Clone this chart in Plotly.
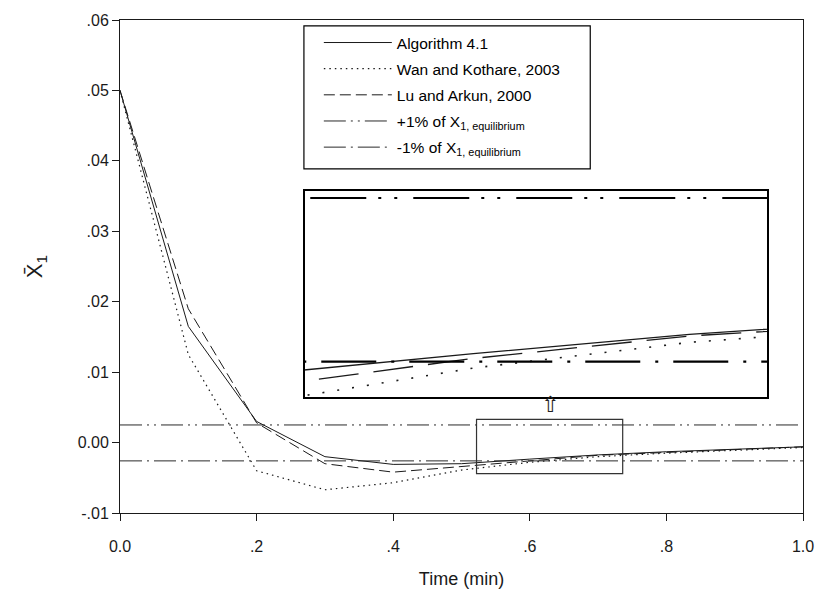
import plotly.graph_objects as go

# ---------------- data ----------------
time_min = [0.0, 0.1, 0.2, 0.3, 0.4, 0.5, 0.6, 0.7, 0.8, 0.9, 1.0]
algorithm_41 = [0.0500, 0.0165, 0.0030, -0.0020, -0.0031, -0.0030, -0.00235, -0.00175, -0.0013, -0.0010, -0.0006]
wan_kothare_2003 = [0.0500, 0.0125, -0.0040, -0.0067, -0.0057, -0.0039, -0.0028, -0.0020, -0.0015, -0.0011, -0.0007]
lu_arkun_2000 = [0.0500, 0.0190, 0.0028, -0.0030, -0.0042, -0.0034, -0.0025, -0.0018, -0.0014, -0.0010, -0.0006]

band_x = [0.0, 1.0]
plus_1pct = 0.0025
minus_1pct = -0.0026

series_names = [
    "Algorithm 4.1",
    "Wan and Kothare, 2003",
    "Lu and Arkun, 2000",
    "+1% of X<sub>1, equilibrium</sub>",
    "-1% of X<sub>1, equilibrium</sub>",
]

x_tick_vals = [0.0, 0.2, 0.4, 0.6, 0.8, 1.0]
x_tick_labels = ["0.0", ".2", ".4", ".6", ".8", "1.0"]
y_tick_vals = [-0.01, 0.0, 0.01, 0.02, 0.03, 0.04, 0.05, 0.06]
y_tick_labels = ["-.01", "0.00", ".01", ".02", ".03", ".04", ".05", ".06"]

x_range = [0.0, 1.0]
y_range = [-0.01, 0.06]

# zoomed region marked on the main plot, and the inset's ranges
zoom_box_x = [0.522, 0.736]
zoom_box_y = [-0.0044, 0.0033]
inset_x_range = [0.522, 0.736]
inset_y_range = [-0.0037, 0.00273]

# ---------------- styles ----------------
INK = "#1a1a1a"
FONT = "Liberation Sans, Arial, sans-serif"

main_styles = [
    dict(color=INK, width=1, dash="solid"),
    dict(color=INK, width=1.2, dash="1.5px,4px"),
    dict(color=INK, width=1, dash="11px,5px"),
    dict(color="#2a2a2a", width=1, dash="22px,5px,2px,5px,2px,5px"),
    dict(color="#2a2a2a", width=1, dash="22px,5px,2px,5px"),
]
inset_styles = [
    dict(color=INK, width=1.3, dash="solid"),
    dict(color=INK, width=1.6, dash="2px,13px"),
    dict(color=INK, width=1.3, dash="40px,15px"),
    dict(color="black", width=2.2, dash="56px,12px,3px,13px,3px,16px"),
    dict(color="black", width=2.2, dash="55px,15px,3px,15px"),
]

series_y = [algorithm_41, wan_kothare_2003, lu_arkun_2000]
band_y = [plus_1pct, minus_1pct]

fig = go.Figure()

for i, ys in enumerate(series_y):
    fig.add_trace(go.Scatter(x=time_min, y=ys, mode="lines", name=series_names[i],
                             line=main_styles[i], legendgroup=f"g{i}",
                             xaxis="x", yaxis="y"))
for j, yv in enumerate(band_y):
    i = 3 + j
    fig.add_trace(go.Scatter(x=band_x, y=[yv, yv], mode="lines", name=series_names[i],
                             line=main_styles[i], legendgroup=f"g{i}",
                             xaxis="x", yaxis="y"))

# inset (same data, zoomed axes)
for i, ys in enumerate(series_y):
    fig.add_trace(go.Scatter(x=time_min, y=ys, mode="lines", showlegend=False,
                             line=inset_styles[i], xaxis="x2", yaxis="y2",
                             hoverinfo="skip"))
for j, yv in enumerate(band_y):
    i = 3 + j
    fig.add_trace(go.Scatter(x=band_x, y=[yv, yv], mode="lines", showlegend=False,
                             line=inset_styles[i], xaxis="x2", yaxis="y2",
                             hoverinfo="skip"))

# ---------------- layout ----------------
W, H = 826, 599
ML, MR, MT, MB = 120, 19, 16, 86
PW, PH = W - ML - MR, H - MT - MB


def px_to_paper_x(px):
    return (px - ML) / PW


def px_to_paper_y(py):
    return (H - MB - py) / PH


axis_common = dict(
    showline=True, linecolor=INK, linewidth=1, mirror=True,
    showgrid=False, zeroline=False,
    ticks="outside", ticklen=7, tickwidth=1, tickcolor=INK,
    tickfont=dict(family=FONT, size=16, color=INK),
)

fig.update_layout(
    width=W, height=H,
    margin=dict(l=ML, r=MR, t=MT, b=MB),
    paper_bgcolor="white", plot_bgcolor="white",
    font=dict(family=FONT, color=INK),
    showlegend=True,
    legend=dict(
        x=px_to_paper_x(320), y=px_to_paper_y(22),
        xanchor="left", yanchor="top",
        bgcolor="rgba(0,0,0,0)", borderwidth=0,
        font=dict(family=FONT, size=15.5, color="black"),
        tracegroupgap=3, itemwidth=68, traceorder="grouped",
    ),
    xaxis=dict(range=x_range, domain=[0, 1], anchor="y",
               tickvals=x_tick_vals, ticktext=x_tick_labels, ticklabelstandoff=12,
               title=dict(text="Time (min)", font=dict(family=FONT, size=18, color=INK), standoff=18),
               **axis_common),
    yaxis=dict(range=y_range, domain=[0, 1], anchor="x",
               tickvals=y_tick_vals, ticktext=y_tick_labels,
               title=dict(text="X\u0304<sub>1</sub>", font=dict(family=FONT, size=22, color=INK), standoff=28),
               **axis_common),
    xaxis2=dict(range=inset_x_range, anchor="y2",
                domain=[px_to_paper_x(306), px_to_paper_x(771)],
                showline=True, linecolor="black", linewidth=1.5, mirror=True,
                showgrid=False, zeroline=False, ticks="", showticklabels=False),
    yaxis2=dict(range=inset_y_range, anchor="x2",
                domain=[px_to_paper_y(396), px_to_paper_y(188)],
                showline=True, linecolor="black", linewidth=1.5, mirror=True,
                showgrid=False, zeroline=False, ticks="", showticklabels=False),
    shapes=[
        # legend frame
        dict(type="rect", xref="paper", yref="paper",
             x0=px_to_paper_x(305), x1=px_to_paper_x(593),
             y0=px_to_paper_y(166), y1=px_to_paper_y(22),
             line=dict(color="black", width=1.2), fillcolor="rgba(0,0,0,0)"),
        # zoom window on the main plot
        dict(type="rect", xref="x", yref="y",
             x0=zoom_box_x[0], x1=zoom_box_x[1], y0=zoom_box_y[0], y1=zoom_box_y[1],
             line=dict(color="#333333", width=1.2), fillcolor="rgba(0,0,0,0)"),
    ],
    annotations=[
        dict(x=(zoom_box_x[0] + zoom_box_x[1]) / 2, y=zoom_box_y[1], xref="x", yref="y",
             text="\u21e7", showarrow=False, yanchor="bottom", yshift=0,
             font=dict(family="DejaVu Sans", size=22, color="#222222")),
    ],
)

fig.write_html("out.html")
